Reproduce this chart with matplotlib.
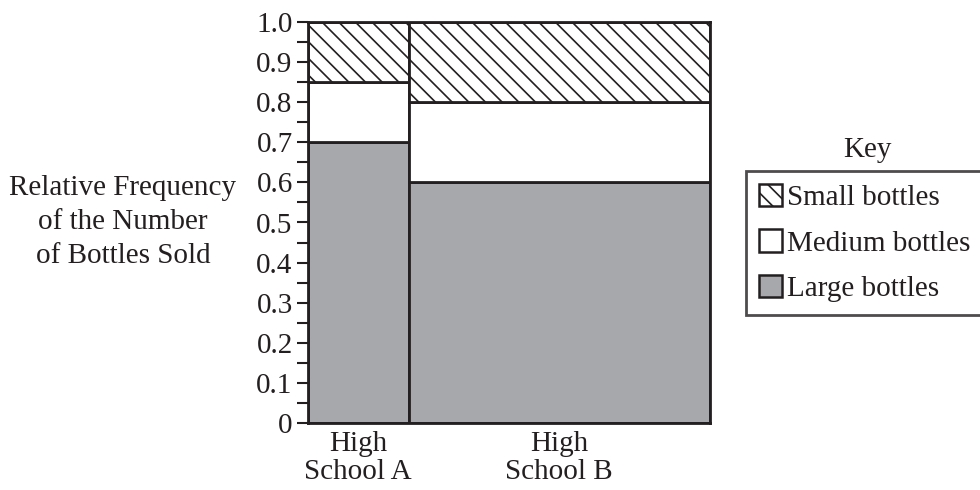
import matplotlib.pyplot as plt
from matplotlib.patches import Patch
import numpy as np

plt.rcParams['font.family'] = ['Liberation Serif', 'DejaVu Serif']
plt.rcParams['font.size'] = 21
plt.rcParams['hatch.linewidth'] = 1.2

schools = ['High\nSchool A', 'High\nSchool B']
widths = [0.25, 0.75]
large = [0.70, 0.60]
medium = [0.15, 0.20]
small = [0.15, 0.20]

ink = '#231f20'
gray = '#a7a8ab'

fig = plt.figure(figsize=(9.8, 4.9), dpi=100)
ax = fig.add_axes([308/980, 1 - 423/490, 402/980, 401/490])

lefts = np.concatenate([[0], np.cumsum(widths)[:-1]])
large = np.array(large)
medium = np.array(medium)
small = np.array(small)

ax.bar(lefts, large, width=widths, align='edge', color=gray, edgecolor=ink, linewidth=2)
ax.bar(lefts, medium, width=widths, bottom=large, align='edge', color='white', edgecolor=ink, linewidth=2)
ax.bar(lefts, small, width=widths, bottom=large + medium, align='edge', color='white',
       edgecolor=ink, linewidth=2, hatch='\\\\')

ax.set_xlim(0, 1)
ax.set_ylim(0, 1)
for s in ax.spines.values():
    s.set_linewidth(2)
    s.set_color(ink)

ax.set_yticks(np.arange(0, 1.01, 0.1))
ax.set_yticklabels(['0'] + ['%.1f' % v for v in np.arange(0.1, 1.01, 0.1)])
ax.set_yticks(np.arange(0.05, 1, 0.1), minor=True)
ax.tick_params(axis='y', which='both', length=8, width=1.5, color=ink, pad=3, labelcolor=ink)

ax.set_xticks(lefts + np.array(widths) / 2)
ax.set_xticklabels(schools, linespacing=1.1)
ax.tick_params(axis='x', length=0, pad=6, labelcolor=ink)

fig.text(123/980, 1 - 222/490, 'Relative Frequency\nof the Number\nof Bottles Sold',
         ha='center', va='center', linespacing=1.38, color=ink)

fig.text(867/980, 1 - 150/490, 'Key', ha='center', va='center', color=ink)
handles = [Patch(facecolor='white', edgecolor=ink, hatch='\\\\', linewidth=1.8, label='Small bottles'),
           Patch(facecolor='white', edgecolor=ink, linewidth=1.8, label='Medium bottles'),
           Patch(facecolor=gray, edgecolor=ink, linewidth=1.8, label='Large bottles')]
leg = fig.legend(handles=handles, loc='upper left', bbox_to_anchor=(746/980, 1 - 171/490),
                 handlelength=0.8, handleheight=0.8, handletextpad=0.15, labelspacing=0.62,
                 borderpad=0.45, borderaxespad=0, fancybox=False, labelcolor=ink)
leg.get_frame().set_edgecolor(ink)
leg.get_frame().set_linewidth(2)

fig.savefig('out.png', dpi=100)
